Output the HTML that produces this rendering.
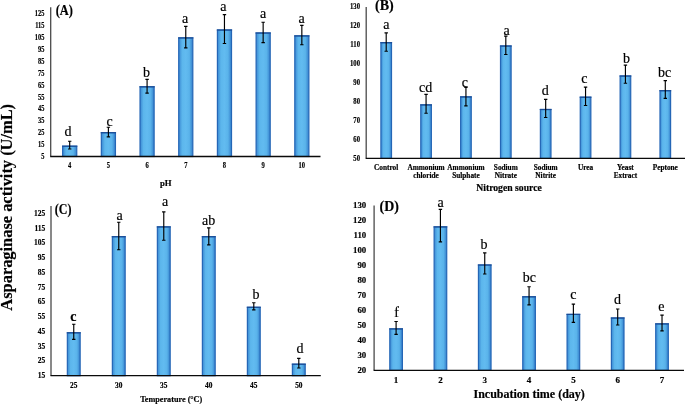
<!DOCTYPE html>
<html><head><meta charset="utf-8"><style>
html,body{margin:0;padding:0;background:#fff;}
body{width:685px;height:405px;overflow:hidden;}
svg{display:block;will-change:transform;filter:blur(0.3px);}
text{fill:#000;stroke:#000;stroke-width:0.18px;}
</style></head><body>
<svg width="685" height="405" viewBox="0 0 685 405">
<defs>
<linearGradient id="barg" x1="0" x2="1" y1="0" y2="0">
<stop offset="0" stop-color="#3a88d2"/>
<stop offset="0.25" stop-color="#5cb6ec"/>
<stop offset="0.5" stop-color="#62bbf0"/>
<stop offset="0.75" stop-color="#5ab3ea"/>
<stop offset="1" stop-color="#3580cc"/>
</linearGradient>
</defs>
<rect width="685" height="405" fill="#fff"/>
<rect x="62.65" y="146.20" width="14.10" height="10.30" fill="url(#barg)" stroke="#2466b6" stroke-width="1.2"/>
<line x1="62.05" y1="146.20" x2="77.35" y2="146.20" stroke="#1a4c96" stroke-width="1.2"/>
<rect x="101.34" y="132.70" width="14.10" height="23.80" fill="url(#barg)" stroke="#2466b6" stroke-width="1.2"/>
<line x1="100.74" y1="132.70" x2="116.04" y2="132.70" stroke="#1a4c96" stroke-width="1.2"/>
<rect x="140.03" y="86.80" width="14.10" height="69.70" fill="url(#barg)" stroke="#2466b6" stroke-width="1.2"/>
<line x1="139.43" y1="86.80" x2="154.73" y2="86.80" stroke="#1a4c96" stroke-width="1.2"/>
<rect x="178.72" y="37.90" width="14.10" height="118.60" fill="url(#barg)" stroke="#2466b6" stroke-width="1.2"/>
<line x1="178.12" y1="37.90" x2="193.42" y2="37.90" stroke="#1a4c96" stroke-width="1.2"/>
<rect x="217.41" y="30.00" width="14.10" height="126.50" fill="url(#barg)" stroke="#2466b6" stroke-width="1.2"/>
<line x1="216.81" y1="30.00" x2="232.11" y2="30.00" stroke="#1a4c96" stroke-width="1.2"/>
<rect x="256.10" y="33.00" width="14.10" height="123.50" fill="url(#barg)" stroke="#2466b6" stroke-width="1.2"/>
<line x1="255.50" y1="33.00" x2="270.80" y2="33.00" stroke="#1a4c96" stroke-width="1.2"/>
<rect x="294.79" y="35.90" width="14.10" height="120.60" fill="url(#barg)" stroke="#2466b6" stroke-width="1.2"/>
<line x1="294.19" y1="35.90" x2="309.49" y2="35.90" stroke="#1a4c96" stroke-width="1.2"/>
<path d="M69.70 141.20V149.00M68.00 141.20H71.40M68.00 149.00H71.40" stroke="#000" stroke-width="1.15" fill="none"/>
<path d="M108.39 127.20V136.80M106.69 127.20H110.09M106.69 136.80H110.09" stroke="#000" stroke-width="1.15" fill="none"/>
<path d="M147.08 79.30V93.10M145.38 79.30H148.78M145.38 93.10H148.78" stroke="#000" stroke-width="1.15" fill="none"/>
<path d="M185.77 26.30V47.90M184.07 26.30H187.47M184.07 47.90H187.47" stroke="#000" stroke-width="1.15" fill="none"/>
<path d="M224.46 14.60V43.50M222.76 14.60H226.16M222.76 43.50H226.16" stroke="#000" stroke-width="1.15" fill="none"/>
<path d="M263.15 22.20V42.60M261.45 22.20H264.85M261.45 42.60H264.85" stroke="#000" stroke-width="1.15" fill="none"/>
<path d="M301.84 25.30V44.70M300.14 25.30H303.54M300.14 44.70H303.54" stroke="#000" stroke-width="1.15" fill="none"/>
<text x="67.90" y="136.30" font-family='"Liberation Serif", serif' font-size="14" font-weight="normal" text-anchor="middle" >d</text>
<text x="109.50" y="125.70" font-family='"Liberation Serif", serif' font-size="14" font-weight="normal" text-anchor="middle" >c</text>
<text x="146.50" y="76.80" font-family='"Liberation Serif", serif' font-size="14" font-weight="normal" text-anchor="middle" >b</text>
<text x="185.00" y="23.00" font-family='"Liberation Serif", serif' font-size="14" font-weight="normal" text-anchor="middle" >a</text>
<text x="223.40" y="11.20" font-family='"Liberation Serif", serif' font-size="14" font-weight="normal" text-anchor="middle" >a</text>
<text x="263.20" y="18.30" font-family='"Liberation Serif", serif' font-size="14" font-weight="normal" text-anchor="middle" >a</text>
<text x="301.60" y="23.00" font-family='"Liberation Serif", serif' font-size="14" font-weight="normal" text-anchor="middle" >a</text>
<line x1="50.7" y1="7.2" x2="50.7" y2="156.5" stroke="#4a4a4a" stroke-width="1.3"/>
<line x1="50.2" y1="156.5" x2="320.5" y2="156.5" stroke="#0a0a0a" stroke-width="1.3"/>
<g transform="translate(44.40 159.31) scale(0.78 1)"><text x="0" y="0" font-family='"Liberation Serif", serif' font-size="8.2" font-weight="bold" text-anchor="end" stroke="#000" stroke-width="0.3">5</text></g>
<g transform="translate(44.40 147.35) scale(0.78 1)"><text x="0" y="0" font-family='"Liberation Serif", serif' font-size="8.2" font-weight="bold" text-anchor="end" stroke="#000" stroke-width="0.3">15</text></g>
<g transform="translate(44.40 135.39) scale(0.78 1)"><text x="0" y="0" font-family='"Liberation Serif", serif' font-size="8.2" font-weight="bold" text-anchor="end" stroke="#000" stroke-width="0.3">25</text></g>
<g transform="translate(44.40 123.43) scale(0.78 1)"><text x="0" y="0" font-family='"Liberation Serif", serif' font-size="8.2" font-weight="bold" text-anchor="end" stroke="#000" stroke-width="0.3">35</text></g>
<g transform="translate(44.40 111.47) scale(0.78 1)"><text x="0" y="0" font-family='"Liberation Serif", serif' font-size="8.2" font-weight="bold" text-anchor="end" stroke="#000" stroke-width="0.3">45</text></g>
<g transform="translate(44.40 99.52) scale(0.78 1)"><text x="0" y="0" font-family='"Liberation Serif", serif' font-size="8.2" font-weight="bold" text-anchor="end" stroke="#000" stroke-width="0.3">55</text></g>
<g transform="translate(44.40 87.56) scale(0.78 1)"><text x="0" y="0" font-family='"Liberation Serif", serif' font-size="8.2" font-weight="bold" text-anchor="end" stroke="#000" stroke-width="0.3">65</text></g>
<g transform="translate(44.40 75.60) scale(0.78 1)"><text x="0" y="0" font-family='"Liberation Serif", serif' font-size="8.2" font-weight="bold" text-anchor="end" stroke="#000" stroke-width="0.3">75</text></g>
<g transform="translate(44.40 63.64) scale(0.78 1)"><text x="0" y="0" font-family='"Liberation Serif", serif' font-size="8.2" font-weight="bold" text-anchor="end" stroke="#000" stroke-width="0.3">85</text></g>
<g transform="translate(44.40 51.68) scale(0.78 1)"><text x="0" y="0" font-family='"Liberation Serif", serif' font-size="8.2" font-weight="bold" text-anchor="end" stroke="#000" stroke-width="0.3">95</text></g>
<g transform="translate(44.40 39.73) scale(0.78 1)"><text x="0" y="0" font-family='"Liberation Serif", serif' font-size="8.2" font-weight="bold" text-anchor="end" stroke="#000" stroke-width="0.3">105</text></g>
<g transform="translate(44.40 27.77) scale(0.78 1)"><text x="0" y="0" font-family='"Liberation Serif", serif' font-size="8.2" font-weight="bold" text-anchor="end" stroke="#000" stroke-width="0.3">115</text></g>
<g transform="translate(44.40 15.81) scale(0.78 1)"><text x="0" y="0" font-family='"Liberation Serif", serif' font-size="8.2" font-weight="bold" text-anchor="end" stroke="#000" stroke-width="0.3">125</text></g>
<g transform="translate(69.70 167.54) scale(0.82 1)"><text x="0" y="0" font-family='"Liberation Serif", serif' font-size="8.0" font-weight="bold" text-anchor="middle" stroke="#000" stroke-width="0.25">4</text></g>
<g transform="translate(108.39 167.54) scale(0.82 1)"><text x="0" y="0" font-family='"Liberation Serif", serif' font-size="8.0" font-weight="bold" text-anchor="middle" stroke="#000" stroke-width="0.25">5</text></g>
<g transform="translate(147.08 167.54) scale(0.82 1)"><text x="0" y="0" font-family='"Liberation Serif", serif' font-size="8.0" font-weight="bold" text-anchor="middle" stroke="#000" stroke-width="0.25">6</text></g>
<g transform="translate(185.77 167.54) scale(0.82 1)"><text x="0" y="0" font-family='"Liberation Serif", serif' font-size="8.0" font-weight="bold" text-anchor="middle" stroke="#000" stroke-width="0.25">7</text></g>
<g transform="translate(224.46 167.54) scale(0.82 1)"><text x="0" y="0" font-family='"Liberation Serif", serif' font-size="8.0" font-weight="bold" text-anchor="middle" stroke="#000" stroke-width="0.25">8</text></g>
<g transform="translate(263.15 167.54) scale(0.82 1)"><text x="0" y="0" font-family='"Liberation Serif", serif' font-size="8.0" font-weight="bold" text-anchor="middle" stroke="#000" stroke-width="0.25">9</text></g>
<g transform="translate(301.84 167.54) scale(0.82 1)"><text x="0" y="0" font-family='"Liberation Serif", serif' font-size="8.0" font-weight="bold" text-anchor="middle" stroke="#000" stroke-width="0.25">10</text></g>
<g transform="translate(55.70 15.20) scale(0.85 1)"><text x="0" y="0" font-family='"Liberation Serif", serif' font-size="14.6" font-weight="bold" text-anchor="start">(A)</text></g>
<text x="165.70" y="186.20" font-family='"Liberation Serif", serif' font-size="8.7" font-weight="bold" text-anchor="middle" >pH</text>
<rect x="380.90" y="42.70" width="10.60" height="115.70" fill="url(#barg)" stroke="#2466b6" stroke-width="1.2"/>
<line x1="380.30" y1="42.70" x2="392.10" y2="42.70" stroke="#1a4c96" stroke-width="1.2"/>
<rect x="420.77" y="104.90" width="10.60" height="53.50" fill="url(#barg)" stroke="#2466b6" stroke-width="1.2"/>
<line x1="420.17" y1="104.90" x2="431.97" y2="104.90" stroke="#1a4c96" stroke-width="1.2"/>
<rect x="460.64" y="96.90" width="10.60" height="61.50" fill="url(#barg)" stroke="#2466b6" stroke-width="1.2"/>
<line x1="460.04" y1="96.90" x2="471.84" y2="96.90" stroke="#1a4c96" stroke-width="1.2"/>
<rect x="500.51" y="46.00" width="10.60" height="112.40" fill="url(#barg)" stroke="#2466b6" stroke-width="1.2"/>
<line x1="499.91" y1="46.00" x2="511.71" y2="46.00" stroke="#1a4c96" stroke-width="1.2"/>
<rect x="540.38" y="109.50" width="10.60" height="48.90" fill="url(#barg)" stroke="#2466b6" stroke-width="1.2"/>
<line x1="539.78" y1="109.50" x2="551.58" y2="109.50" stroke="#1a4c96" stroke-width="1.2"/>
<rect x="580.25" y="97.20" width="10.60" height="61.20" fill="url(#barg)" stroke="#2466b6" stroke-width="1.2"/>
<line x1="579.65" y1="97.20" x2="591.45" y2="97.20" stroke="#1a4c96" stroke-width="1.2"/>
<rect x="620.12" y="76.00" width="10.60" height="82.40" fill="url(#barg)" stroke="#2466b6" stroke-width="1.2"/>
<line x1="619.52" y1="76.00" x2="631.32" y2="76.00" stroke="#1a4c96" stroke-width="1.2"/>
<rect x="659.99" y="90.70" width="10.60" height="67.70" fill="url(#barg)" stroke="#2466b6" stroke-width="1.2"/>
<line x1="659.39" y1="90.70" x2="671.19" y2="90.70" stroke="#1a4c96" stroke-width="1.2"/>
<path d="M386.20 32.80V51.20M384.50 32.80H387.90M384.50 51.20H387.90" stroke="#000" stroke-width="1.15" fill="none"/>
<path d="M426.07 94.40V113.20M424.37 94.40H427.77M424.37 113.20H427.77" stroke="#000" stroke-width="1.15" fill="none"/>
<path d="M465.94 87.30V105.80M464.24 87.30H467.64M464.24 105.80H467.64" stroke="#000" stroke-width="1.15" fill="none"/>
<path d="M505.81 36.10V54.50M504.11 36.10H507.51M504.11 54.50H507.51" stroke="#000" stroke-width="1.15" fill="none"/>
<path d="M545.68 99.30V117.50M543.98 99.30H547.38M543.98 117.50H547.38" stroke="#000" stroke-width="1.15" fill="none"/>
<path d="M585.55 87.10V105.50M583.85 87.10H587.25M583.85 105.50H587.25" stroke="#000" stroke-width="1.15" fill="none"/>
<path d="M625.42 65.10V83.20M623.72 65.10H627.12M623.72 83.20H627.12" stroke="#000" stroke-width="1.15" fill="none"/>
<path d="M665.29 80.60V98.40M663.59 80.60H666.99M663.59 98.40H666.99" stroke="#000" stroke-width="1.15" fill="none"/>
<text x="386.40" y="29.30" font-family='"Liberation Serif", serif' font-size="14" font-weight="normal" text-anchor="middle" >a</text>
<text x="425.60" y="91.80" font-family='"Liberation Serif", serif' font-size="14" font-weight="normal" text-anchor="middle" >cd</text>
<text x="464.90" y="86.80" font-family='"Liberation Serif", serif' font-size="14" font-weight="normal" text-anchor="middle" >c</text>
<text x="506.70" y="34.60" font-family='"Liberation Serif", serif' font-size="14" font-weight="normal" text-anchor="middle" >a</text>
<text x="545.30" y="95.10" font-family='"Liberation Serif", serif' font-size="14" font-weight="normal" text-anchor="middle" >d</text>
<text x="584.30" y="83.20" font-family='"Liberation Serif", serif' font-size="14" font-weight="normal" text-anchor="middle" >c</text>
<text x="626.40" y="63.10" font-family='"Liberation Serif", serif' font-size="14" font-weight="normal" text-anchor="middle" >b</text>
<text x="664.70" y="77.00" font-family='"Liberation Serif", serif' font-size="14" font-weight="normal" text-anchor="middle" >bc</text>
<line x1="366.2" y1="7.0" x2="366.2" y2="158.4" stroke="#4a4a4a" stroke-width="1.3"/>
<line x1="365.7" y1="158.4" x2="685" y2="158.4" stroke="#0a0a0a" stroke-width="1.3"/>
<g transform="translate(360.00 160.67) scale(0.86 1)"><text x="0" y="0" font-family='"Liberation Serif", serif' font-size="7.8" font-weight="bold" text-anchor="end" stroke="#000" stroke-width="0.3">50</text></g>
<g transform="translate(360.00 141.75) scale(0.86 1)"><text x="0" y="0" font-family='"Liberation Serif", serif' font-size="7.8" font-weight="bold" text-anchor="end" stroke="#000" stroke-width="0.3">60</text></g>
<g transform="translate(360.00 122.82) scale(0.86 1)"><text x="0" y="0" font-family='"Liberation Serif", serif' font-size="7.8" font-weight="bold" text-anchor="end" stroke="#000" stroke-width="0.3">70</text></g>
<g transform="translate(360.00 103.90) scale(0.86 1)"><text x="0" y="0" font-family='"Liberation Serif", serif' font-size="7.8" font-weight="bold" text-anchor="end" stroke="#000" stroke-width="0.3">80</text></g>
<g transform="translate(360.00 84.97) scale(0.86 1)"><text x="0" y="0" font-family='"Liberation Serif", serif' font-size="7.8" font-weight="bold" text-anchor="end" stroke="#000" stroke-width="0.3">90</text></g>
<g transform="translate(360.00 66.05) scale(0.86 1)"><text x="0" y="0" font-family='"Liberation Serif", serif' font-size="7.8" font-weight="bold" text-anchor="end" stroke="#000" stroke-width="0.3">100</text></g>
<g transform="translate(360.00 47.12) scale(0.86 1)"><text x="0" y="0" font-family='"Liberation Serif", serif' font-size="7.8" font-weight="bold" text-anchor="end" stroke="#000" stroke-width="0.3">110</text></g>
<g transform="translate(360.00 28.20) scale(0.86 1)"><text x="0" y="0" font-family='"Liberation Serif", serif' font-size="7.8" font-weight="bold" text-anchor="end" stroke="#000" stroke-width="0.3">120</text></g>
<g transform="translate(360.00 9.27) scale(0.86 1)"><text x="0" y="0" font-family='"Liberation Serif", serif' font-size="7.8" font-weight="bold" text-anchor="end" stroke="#000" stroke-width="0.3">130</text></g>
<text x="386.20" y="170.01" font-family='"Liberation Serif", serif' font-size="7.3" font-weight="bold" text-anchor="middle" >Control</text>
<text x="426.07" y="170.01" font-family='"Liberation Serif", serif' font-size="7.3" font-weight="bold" text-anchor="middle" >Ammonium</text>
<text x="426.07" y="177.91" font-family='"Liberation Serif", serif' font-size="7.3" font-weight="bold" text-anchor="middle" >chloride</text>
<text x="465.94" y="170.01" font-family='"Liberation Serif", serif' font-size="7.3" font-weight="bold" text-anchor="middle" >Ammonium</text>
<text x="465.94" y="177.91" font-family='"Liberation Serif", serif' font-size="7.3" font-weight="bold" text-anchor="middle" >Sulphate</text>
<text x="505.81" y="170.01" font-family='"Liberation Serif", serif' font-size="7.3" font-weight="bold" text-anchor="middle" >Sodium</text>
<text x="505.81" y="177.91" font-family='"Liberation Serif", serif' font-size="7.3" font-weight="bold" text-anchor="middle" >Nitrate</text>
<text x="545.68" y="170.01" font-family='"Liberation Serif", serif' font-size="7.3" font-weight="bold" text-anchor="middle" >Sodium</text>
<text x="545.68" y="177.91" font-family='"Liberation Serif", serif' font-size="7.3" font-weight="bold" text-anchor="middle" >Nitrite</text>
<text x="585.55" y="170.01" font-family='"Liberation Serif", serif' font-size="7.3" font-weight="bold" text-anchor="middle" >Urea</text>
<text x="625.42" y="170.01" font-family='"Liberation Serif", serif' font-size="7.3" font-weight="bold" text-anchor="middle" >Yeast</text>
<text x="625.42" y="177.91" font-family='"Liberation Serif", serif' font-size="7.3" font-weight="bold" text-anchor="middle" >Extract</text>
<text x="665.29" y="170.01" font-family='"Liberation Serif", serif' font-size="7.3" font-weight="bold" text-anchor="middle" >Peptone</text>
<g transform="translate(375.00 9.90) scale(0.97 1)"><text x="0" y="0" font-family='"Liberation Serif", serif' font-size="14.5" font-weight="bold" text-anchor="start">(B)</text></g>
<text x="509.00" y="190.70" font-family='"Liberation Serif", serif' font-size="9.7" font-weight="bold" text-anchor="middle" >Nitrogen source</text>
<rect x="67.35" y="332.80" width="12.80" height="42.90" fill="url(#barg)" stroke="#2466b6" stroke-width="1.2"/>
<line x1="66.75" y1="332.80" x2="80.75" y2="332.80" stroke="#1a4c96" stroke-width="1.2"/>
<rect x="112.36" y="236.70" width="12.80" height="139.00" fill="url(#barg)" stroke="#2466b6" stroke-width="1.2"/>
<line x1="111.76" y1="236.70" x2="125.76" y2="236.70" stroke="#1a4c96" stroke-width="1.2"/>
<rect x="157.37" y="226.90" width="12.80" height="148.80" fill="url(#barg)" stroke="#2466b6" stroke-width="1.2"/>
<line x1="156.77" y1="226.90" x2="170.77" y2="226.90" stroke="#1a4c96" stroke-width="1.2"/>
<rect x="202.38" y="236.70" width="12.80" height="139.00" fill="url(#barg)" stroke="#2466b6" stroke-width="1.2"/>
<line x1="201.78" y1="236.70" x2="215.78" y2="236.70" stroke="#1a4c96" stroke-width="1.2"/>
<rect x="247.39" y="307.30" width="12.80" height="68.40" fill="url(#barg)" stroke="#2466b6" stroke-width="1.2"/>
<line x1="246.79" y1="307.30" x2="260.79" y2="307.30" stroke="#1a4c96" stroke-width="1.2"/>
<rect x="292.40" y="364.20" width="12.80" height="11.50" fill="url(#barg)" stroke="#2466b6" stroke-width="1.2"/>
<line x1="291.80" y1="364.20" x2="305.80" y2="364.20" stroke="#1a4c96" stroke-width="1.2"/>
<path d="M73.75 324.20V339.40M72.05 324.20H75.45M72.05 339.40H75.45" stroke="#000" stroke-width="1.15" fill="none"/>
<path d="M118.76 222.20V249.70M117.06 222.20H120.46M117.06 249.70H120.46" stroke="#000" stroke-width="1.15" fill="none"/>
<path d="M163.77 211.90V240.20M162.07 211.90H165.47M162.07 240.20H165.47" stroke="#000" stroke-width="1.15" fill="none"/>
<path d="M208.78 227.90V244.80M207.08 227.90H210.48M207.08 244.80H210.48" stroke="#000" stroke-width="1.15" fill="none"/>
<path d="M253.79 302.70V309.80M252.09 302.70H255.49M252.09 309.80H255.49" stroke="#000" stroke-width="1.15" fill="none"/>
<path d="M298.80 358.30V368.00M297.10 358.30H300.50M297.10 368.00H300.50" stroke="#000" stroke-width="1.15" fill="none"/>
<text x="73.30" y="320.70" font-family='"Liberation Serif", serif' font-size="14" font-weight="bold" text-anchor="middle" >c</text>
<text x="119.50" y="219.70" font-family='"Liberation Serif", serif' font-size="14" font-weight="normal" text-anchor="middle" >a</text>
<text x="165.20" y="205.80" font-family='"Liberation Serif", serif' font-size="14" font-weight="normal" text-anchor="middle" >a</text>
<text x="208.70" y="224.80" font-family='"Liberation Serif", serif' font-size="14" font-weight="normal" text-anchor="middle" >ab</text>
<text x="256.00" y="299.40" font-family='"Liberation Serif", serif' font-size="14" font-weight="normal" text-anchor="middle" >b</text>
<text x="300.00" y="353.10" font-family='"Liberation Serif", serif' font-size="14" font-weight="normal" text-anchor="middle" >d</text>
<line x1="51.0" y1="206.0" x2="51.0" y2="375.7" stroke="#4a4a4a" stroke-width="1.3"/>
<line x1="50.5" y1="375.7" x2="320.8" y2="375.7" stroke="#0a0a0a" stroke-width="1.3"/>
<g transform="translate(45.30 378.21) scale(0.92 1)"><text x="0" y="0" font-family='"Liberation Serif", serif' font-size="8.2" font-weight="bold" text-anchor="end" stroke="#000" stroke-width="0.3">15</text></g>
<g transform="translate(45.30 363.44) scale(0.92 1)"><text x="0" y="0" font-family='"Liberation Serif", serif' font-size="8.2" font-weight="bold" text-anchor="end" stroke="#000" stroke-width="0.3">25</text></g>
<g transform="translate(45.30 348.68) scale(0.92 1)"><text x="0" y="0" font-family='"Liberation Serif", serif' font-size="8.2" font-weight="bold" text-anchor="end" stroke="#000" stroke-width="0.3">35</text></g>
<g transform="translate(45.30 333.91) scale(0.92 1)"><text x="0" y="0" font-family='"Liberation Serif", serif' font-size="8.2" font-weight="bold" text-anchor="end" stroke="#000" stroke-width="0.3">45</text></g>
<g transform="translate(45.30 319.15) scale(0.92 1)"><text x="0" y="0" font-family='"Liberation Serif", serif' font-size="8.2" font-weight="bold" text-anchor="end" stroke="#000" stroke-width="0.3">55</text></g>
<g transform="translate(45.30 304.39) scale(0.92 1)"><text x="0" y="0" font-family='"Liberation Serif", serif' font-size="8.2" font-weight="bold" text-anchor="end" stroke="#000" stroke-width="0.3">65</text></g>
<g transform="translate(45.30 289.62) scale(0.92 1)"><text x="0" y="0" font-family='"Liberation Serif", serif' font-size="8.2" font-weight="bold" text-anchor="end" stroke="#000" stroke-width="0.3">75</text></g>
<g transform="translate(45.30 274.86) scale(0.92 1)"><text x="0" y="0" font-family='"Liberation Serif", serif' font-size="8.2" font-weight="bold" text-anchor="end" stroke="#000" stroke-width="0.3">85</text></g>
<g transform="translate(45.30 260.09) scale(0.92 1)"><text x="0" y="0" font-family='"Liberation Serif", serif' font-size="8.2" font-weight="bold" text-anchor="end" stroke="#000" stroke-width="0.3">95</text></g>
<g transform="translate(45.30 245.33) scale(0.92 1)"><text x="0" y="0" font-family='"Liberation Serif", serif' font-size="8.2" font-weight="bold" text-anchor="end" stroke="#000" stroke-width="0.3">105</text></g>
<g transform="translate(45.30 230.57) scale(0.92 1)"><text x="0" y="0" font-family='"Liberation Serif", serif' font-size="8.2" font-weight="bold" text-anchor="end" stroke="#000" stroke-width="0.3">115</text></g>
<g transform="translate(45.30 215.80) scale(0.92 1)"><text x="0" y="0" font-family='"Liberation Serif", serif' font-size="8.2" font-weight="bold" text-anchor="end" stroke="#000" stroke-width="0.3">125</text></g>
<g transform="translate(73.75 387.64) scale(0.92 1)"><text x="0" y="0" font-family='"Liberation Serif", serif' font-size="8.0" font-weight="bold" text-anchor="middle" stroke="#000" stroke-width="0.25">25</text></g>
<g transform="translate(118.76 387.64) scale(0.92 1)"><text x="0" y="0" font-family='"Liberation Serif", serif' font-size="8.0" font-weight="bold" text-anchor="middle" stroke="#000" stroke-width="0.25">30</text></g>
<g transform="translate(163.77 387.64) scale(0.92 1)"><text x="0" y="0" font-family='"Liberation Serif", serif' font-size="8.0" font-weight="bold" text-anchor="middle" stroke="#000" stroke-width="0.25">35</text></g>
<g transform="translate(208.78 387.64) scale(0.92 1)"><text x="0" y="0" font-family='"Liberation Serif", serif' font-size="8.0" font-weight="bold" text-anchor="middle" stroke="#000" stroke-width="0.25">40</text></g>
<g transform="translate(253.79 387.64) scale(0.92 1)"><text x="0" y="0" font-family='"Liberation Serif", serif' font-size="8.0" font-weight="bold" text-anchor="middle" stroke="#000" stroke-width="0.25">45</text></g>
<g transform="translate(298.80 387.64) scale(0.92 1)"><text x="0" y="0" font-family='"Liberation Serif", serif' font-size="8.0" font-weight="bold" text-anchor="middle" stroke="#000" stroke-width="0.25">50</text></g>
<g transform="translate(54.80 214.00) scale(0.82 1)"><text x="0" y="0" font-family='"Liberation Serif", serif' font-size="14.7" font-weight="bold" text-anchor="start">(C)</text></g>
<g transform="translate(171.20 402.00) scale(0.91 1)"><text x="0" y="0" font-family='"Liberation Serif", serif' font-size="9.0" font-weight="bold" text-anchor="middle">Temperature (°C)</text></g>
<rect x="389.80" y="328.90" width="12.60" height="41.40" fill="url(#barg)" stroke="#2466b6" stroke-width="1.2"/>
<line x1="389.20" y1="328.90" x2="403.00" y2="328.90" stroke="#1a4c96" stroke-width="1.2"/>
<rect x="434.12" y="226.90" width="12.60" height="143.40" fill="url(#barg)" stroke="#2466b6" stroke-width="1.2"/>
<line x1="433.52" y1="226.90" x2="447.32" y2="226.90" stroke="#1a4c96" stroke-width="1.2"/>
<rect x="478.44" y="265.00" width="12.60" height="105.30" fill="url(#barg)" stroke="#2466b6" stroke-width="1.2"/>
<line x1="477.84" y1="265.00" x2="491.64" y2="265.00" stroke="#1a4c96" stroke-width="1.2"/>
<rect x="522.76" y="296.80" width="12.60" height="73.50" fill="url(#barg)" stroke="#2466b6" stroke-width="1.2"/>
<line x1="522.16" y1="296.80" x2="535.96" y2="296.80" stroke="#1a4c96" stroke-width="1.2"/>
<rect x="567.08" y="314.40" width="12.60" height="55.90" fill="url(#barg)" stroke="#2466b6" stroke-width="1.2"/>
<line x1="566.48" y1="314.40" x2="580.28" y2="314.40" stroke="#1a4c96" stroke-width="1.2"/>
<rect x="611.40" y="318.00" width="12.60" height="52.30" fill="url(#barg)" stroke="#2466b6" stroke-width="1.2"/>
<line x1="610.80" y1="318.00" x2="624.60" y2="318.00" stroke="#1a4c96" stroke-width="1.2"/>
<rect x="655.72" y="323.90" width="12.60" height="46.40" fill="url(#barg)" stroke="#2466b6" stroke-width="1.2"/>
<line x1="655.12" y1="323.90" x2="668.92" y2="323.90" stroke="#1a4c96" stroke-width="1.2"/>
<path d="M396.10 321.50V334.40M394.40 321.50H397.80M394.40 334.40H397.80" stroke="#000" stroke-width="1.15" fill="none"/>
<path d="M440.42 209.30V241.80M438.72 209.30H442.12M438.72 241.80H442.12" stroke="#000" stroke-width="1.15" fill="none"/>
<path d="M484.74 252.90V274.00M483.04 252.90H486.44M483.04 274.00H486.44" stroke="#000" stroke-width="1.15" fill="none"/>
<path d="M529.06 286.70V304.90M527.36 286.70H530.76M527.36 304.90H530.76" stroke="#000" stroke-width="1.15" fill="none"/>
<path d="M573.38 304.10V322.30M571.68 304.10H575.08M571.68 322.30H575.08" stroke="#000" stroke-width="1.15" fill="none"/>
<path d="M617.70 309.00V325.00M616.00 309.00H619.40M616.00 325.00H619.40" stroke="#000" stroke-width="1.15" fill="none"/>
<path d="M662.02 315.10V330.90M660.32 315.10H663.72M660.32 330.90H663.72" stroke="#000" stroke-width="1.15" fill="none"/>
<text x="396.50" y="317.20" font-family='"Liberation Serif", serif' font-size="14" font-weight="normal" text-anchor="middle" >f</text>
<text x="440.50" y="206.70" font-family='"Liberation Serif", serif' font-size="14" font-weight="normal" text-anchor="middle" >a</text>
<text x="484.00" y="248.70" font-family='"Liberation Serif", serif' font-size="14" font-weight="normal" text-anchor="middle" >b</text>
<text x="529.30" y="282.00" font-family='"Liberation Serif", serif' font-size="14" font-weight="normal" text-anchor="middle" >bc</text>
<text x="573.40" y="299.20" font-family='"Liberation Serif", serif' font-size="14" font-weight="normal" text-anchor="middle" >c</text>
<text x="617.60" y="303.50" font-family='"Liberation Serif", serif' font-size="14" font-weight="normal" text-anchor="middle" >d</text>
<text x="661.30" y="310.50" font-family='"Liberation Serif", serif' font-size="14" font-weight="normal" text-anchor="middle" >e</text>
<line x1="374.1" y1="205.4" x2="374.1" y2="370.3" stroke="#4a4a4a" stroke-width="1.3"/>
<line x1="373.6" y1="370.3" x2="684" y2="370.3" stroke="#0a0a0a" stroke-width="1.3"/>
<text x="366.20" y="372.70" font-family='"Liberation Serif", serif' font-size="8.8" font-weight="bold" text-anchor="end" >20</text>
<text x="366.20" y="357.76" font-family='"Liberation Serif", serif' font-size="8.8" font-weight="bold" text-anchor="end" >30</text>
<text x="366.20" y="342.81" font-family='"Liberation Serif", serif' font-size="8.8" font-weight="bold" text-anchor="end" >40</text>
<text x="366.20" y="327.87" font-family='"Liberation Serif", serif' font-size="8.8" font-weight="bold" text-anchor="end" >50</text>
<text x="366.20" y="312.92" font-family='"Liberation Serif", serif' font-size="8.8" font-weight="bold" text-anchor="end" >60</text>
<text x="366.20" y="297.98" font-family='"Liberation Serif", serif' font-size="8.8" font-weight="bold" text-anchor="end" >70</text>
<text x="366.20" y="283.03" font-family='"Liberation Serif", serif' font-size="8.8" font-weight="bold" text-anchor="end" >80</text>
<text x="366.20" y="268.09" font-family='"Liberation Serif", serif' font-size="8.8" font-weight="bold" text-anchor="end" >90</text>
<text x="366.20" y="253.14" font-family='"Liberation Serif", serif' font-size="8.8" font-weight="bold" text-anchor="end" >100</text>
<text x="366.20" y="238.20" font-family='"Liberation Serif", serif' font-size="8.8" font-weight="bold" text-anchor="end" >110</text>
<text x="366.20" y="223.25" font-family='"Liberation Serif", serif' font-size="8.8" font-weight="bold" text-anchor="end" >120</text>
<text x="366.20" y="208.31" font-family='"Liberation Serif", serif' font-size="8.8" font-weight="bold" text-anchor="end" >130</text>
<text x="396.10" y="382.77" font-family='"Liberation Serif", serif' font-size="9" font-weight="bold" text-anchor="middle" >1</text>
<text x="440.42" y="382.77" font-family='"Liberation Serif", serif' font-size="9" font-weight="bold" text-anchor="middle" >2</text>
<text x="484.74" y="382.77" font-family='"Liberation Serif", serif' font-size="9" font-weight="bold" text-anchor="middle" >3</text>
<text x="529.06" y="382.77" font-family='"Liberation Serif", serif' font-size="9" font-weight="bold" text-anchor="middle" >4</text>
<text x="573.38" y="382.77" font-family='"Liberation Serif", serif' font-size="9" font-weight="bold" text-anchor="middle" >5</text>
<text x="617.70" y="382.77" font-family='"Liberation Serif", serif' font-size="9" font-weight="bold" text-anchor="middle" >6</text>
<text x="662.02" y="382.77" font-family='"Liberation Serif", serif' font-size="9" font-weight="bold" text-anchor="middle" >7</text>
<g transform="translate(379.50 211.40) scale(0.96 1)"><text x="0" y="0" font-family='"Liberation Serif", serif' font-size="14.5" font-weight="bold" text-anchor="start">(D)</text></g>
<text x="529.20" y="398.00" font-family='"Liberation Serif", serif' font-size="12" font-weight="bold" text-anchor="middle" >Incubation time (day)</text>
<text transform="translate(11.9 207.3) rotate(-90) scale(0.965 1)" x="0" y="0" font-family='"Liberation Serif", serif' font-size="17" font-weight="bold" text-anchor="middle">Asparaginase activity (U/mL)</text>
</svg>
</body></html>
